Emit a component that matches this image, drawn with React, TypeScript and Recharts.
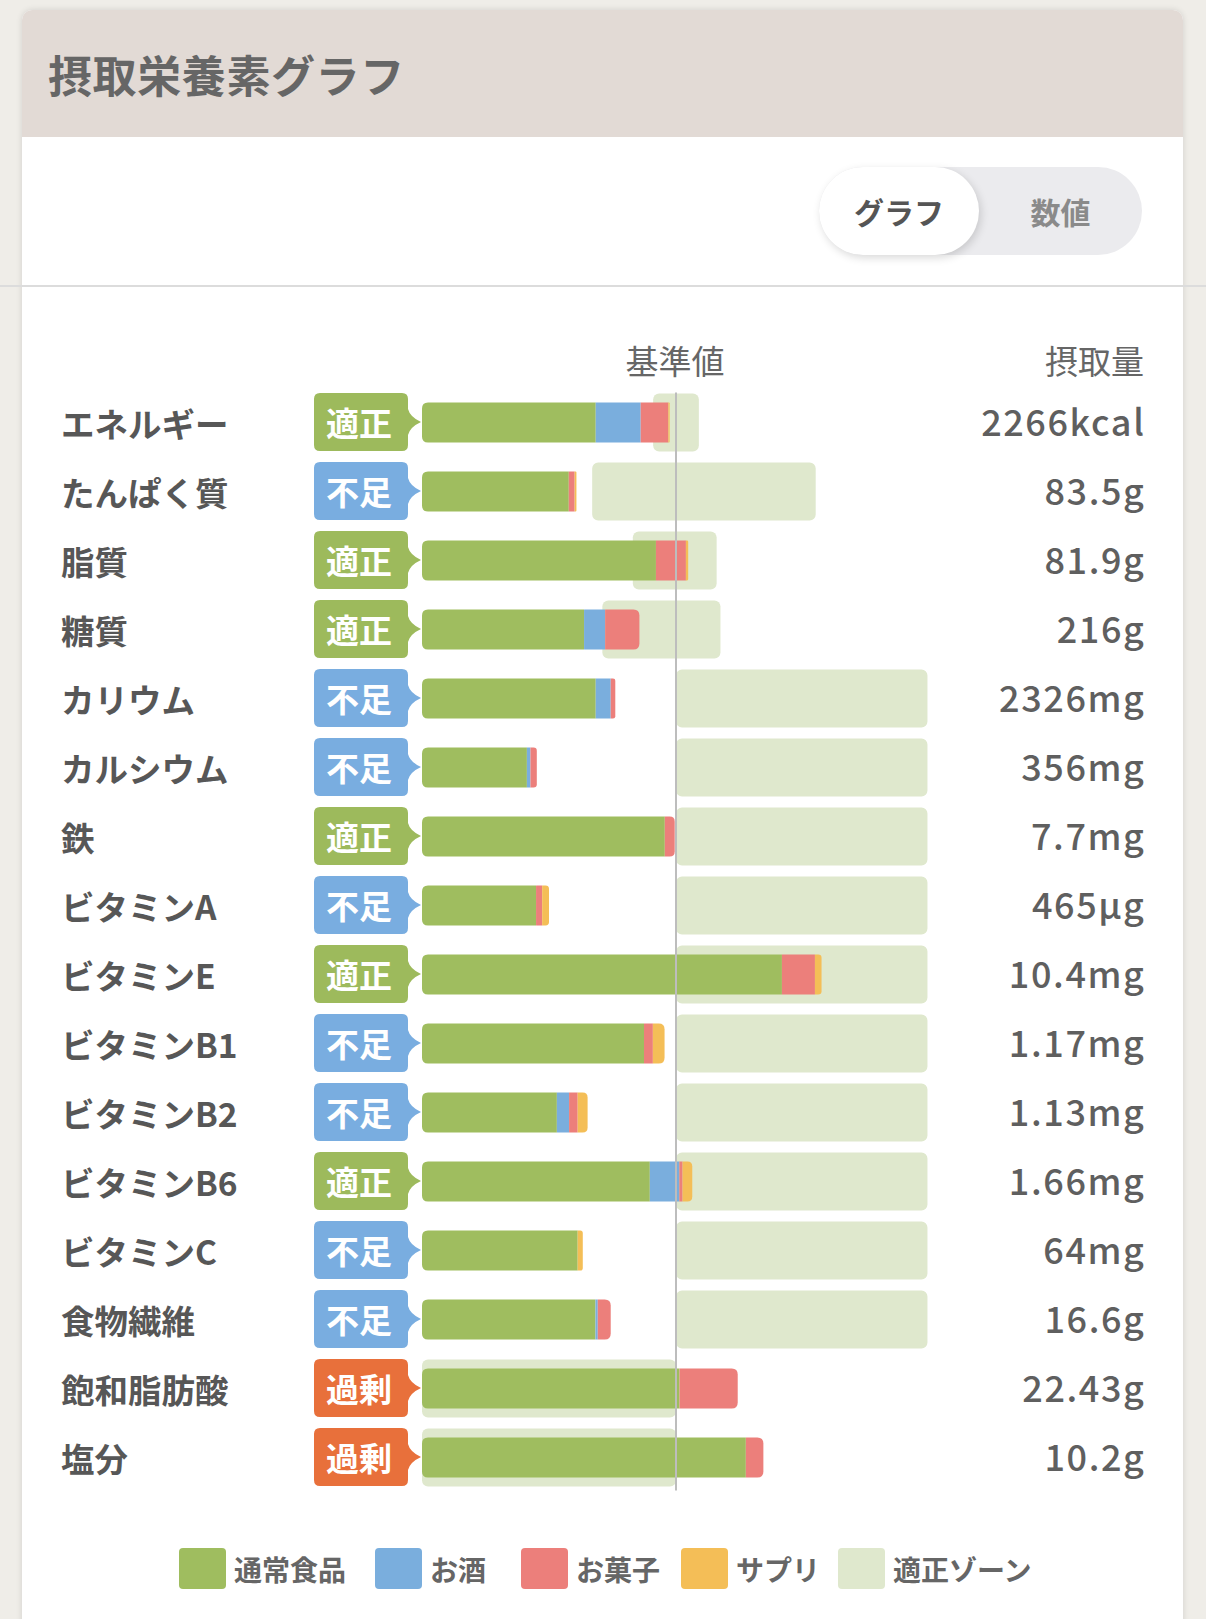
import { Bar, BarChart, ReferenceLine, XAxis, YAxis } from 'recharts'

const NUTRIENTS = [
	'エネルギー',
	'たんぱく質',
	'脂質',
	'糖質',
	'カリウム',
	'カルシウム',
	'鉄',
	'ビタミンA',
	'ビタミンE',
	'ビタミンB1',
	'ビタミンB2',
	'ビタミンB6',
	'ビタミンC',
	'食物繊維',
	'飽和脂肪酸',
	'塩分',
]
const STATUS = ['適正', '不足', '適正', '適正', '不足', '不足', '適正', '不足', '適正', '不足', '不足', '適正', '不足', '不足', '過剰', '過剰']
const INTAKE = ['2266kcal', '83.5g', '81.9g', '216g', '2326mg', '356mg', '7.7mg', '465µg', '10.4mg', '1.17mg', '1.13mg', '1.66mg', '64mg', '16.6g', '22.43g', '10.2g']

// % of the reference value, per source
const FOOD = [68.4, 57.8, 92.1, 63.8, 68.4, 41.3, 95.6, 44.9, 141.7, 87.4, 53.1, 89.7, 61.3, 68.3, 101.4, 127.5]
const ALCOHOL = [17.7, 0, 0, 8.3, 5.9, 1.4, 0, 0, 0, 0, 4.8, 11.6, 0, 0.9, 0, 0]
const SNACK = [10.9, 2.3, 11.8, 13.5, 1.8, 2.5, 3.9, 2.4, 13.0, 3.5, 3.4, 1.3, 0, 5.1, 22.9, 6.9]
const SUPPLEMENT = [0.5, 0.7, 0.9, 0, 0, 0, 0, 2.7, 2.6, 4.6, 3.9, 3.8, 2.0, 0, 0, 0]
const ZONE_LOW = [91, 67, 83, 71, 100, 100, 100, 100, 100, 100, 100, 100, 100, 100, 0, 0]
const ZONE_HIGH = [109, 155, 116, 117.5, 199, 199, 199, 199, 199, 199, 199, 199, 199, 199, 100, 100]

const SERIES = [
	{ key: 'food', name: '通常食品', color: '#9fbd5f' },
	{ key: 'alcohol', name: 'お酒', color: '#7aaedd' },
	{ key: 'snack', name: 'お菓子', color: '#ec7f7b' },
	{ key: 'supplement', name: 'サプリ', color: '#f4be57' },
]
const ZONE_COLOR = '#dfe8cd'
const LEGEND_LEFT = [179, 375, 521, 681, 838]

const STATUS_COLOR: Record<string, string> = {
	適正: '#9dba5c',
	不足: '#79ade0',
	過剰: '#e8703b',
}

const data = NUTRIENTS.map((name, i) => ({
	name,
	status: STATUS[i],
	intake: INTAKE[i],
	food: FOOD[i],
	alcohol: ALCOHOL[i],
	snack: SNACK[i],
	supplement: SUPPLEMENT[i],
	zoneLow: ZONE_LOW[i],
	zoneHigh: ZONE_HIGH[i],
}))

const FONT = '"Noto Sans CJK JP", "Noto Sans", sans-serif'

function roundedPath(x: number, y: number, w: number, h: number, rl: number, rr: number) {
	return `M${x + rl},${y} H${x + w - rr} Q${x + w},${y} ${x + w},${y + rr} V${y + h - rr} Q${x + w},${y + h} ${x + w - rr},${y + h} H${x + rl} Q${x},${y + h} ${x},${y + h - rl} V${y + rl} Q${x},${y} ${x + rl},${y} Z`
}

function Segment(props: any) {
	const { x, y, width, height, fill, payload, k } = props
	if (!width || width <= 0) return null
	const idx = SERIES.findIndex((s) => s.key === k)
	const isFirst = SERIES.slice(0, idx).every((s) => !payload[s.key])
	const isLast = SERIES.slice(idx + 1).every((s) => !payload[s.key])
	const r = Math.min(6, width / 2)
	return <path d={roundedPath(x, y, width, height, isFirst ? r : 0, isLast ? r : 0)} fill={fill} />
}

function RowTick(props: any) {
	const { y, payload } = props
	const row = data[payload.index]
	const c = y
	const x0 = 314
	const x1 = 408
	const top = c - 29
	const bot = c + 29
	const r = 6
	const badge = `M${x0 + r},${top} H${x1 - r} Q${x1},${top} ${x1},${top + r} V${c - 13} Q${x1 + 2},${c - 5} ${x1 + 13},${c} Q${x1 + 2},${c + 5} ${x1},${c + 13} V${bot - r} Q${x1},${bot} ${x1 - r},${bot} H${x0 + r} Q${x0},${bot} ${x0},${bot - r} V${top + r} Q${x0},${top} ${x0 + r},${top} Z`
	return (
		<g fontFamily={FONT}>
			<text x={61} y={c} dominantBaseline='central' fontSize={33.5} fontWeight={700} fill='#575757'>
				{row.name}
			</text>
			<path d={badge} fill={STATUS_COLOR[row.status]} />
			<text x={359} y={c} textAnchor='middle' dominantBaseline='central' fontSize={33} fontWeight={700} fill='#fff'>
				{row.status}
			</text>
			<text
				x={1145.5}
				y={c - 2}
				textAnchor='end'
				dominantBaseline='central'
				fontSize={36}
				fontWeight={500}
				letterSpacing={1.6}
				fill='#5f5f5f'
			>
				{row.intake}
			</text>
		</g>
	)
}

export default function App() {
	return (
		<div
			style={{
				position: 'absolute',
				left: 0,
				top: 0,
				width: 1206,
				height: 1619,
				background: '#efede8',
				overflow: 'hidden',
				fontFamily: FONT,
			}}
		>
			<div
				style={{
					position: 'absolute',
					left: 22,
					top: 10,
					width: 1161,
					height: 1660,
					background: '#fff',
					borderRadius: 10,
					boxShadow: '0 0 6px rgba(0,0,0,0.12)',
					overflow: 'hidden',
				}}
			>
				<div
					style={{
						height: 127,
						background: '#e2dad5',
						display: 'flex',
						alignItems: 'center',
						paddingLeft: 26,
						fontSize: 44,
						letterSpacing: 0.6,
						fontWeight: 700,
						color: '#666',
					}}
				>
					摂取栄養素グラフ
				</div>
			</div>
			<div style={{ position: 'absolute', left: 0, top: 285, width: 1206, height: 2, background: '#dcdcdc' }} />
			<div
				style={{
					position: 'absolute',
					left: 819,
					top: 167,
					width: 323,
					height: 88,
					borderRadius: 44,
					background: '#ebebee',
				}}
			>
				<div
					style={{
						position: 'absolute',
						left: 0,
						top: 0,
						width: 160,
						height: 88,
						borderRadius: 44,
						background: '#fff',
						boxShadow: '2px 3px 8px rgba(0,0,0,0.15)',
						display: 'flex',
						alignItems: 'center',
						justifyContent: 'center',
						fontSize: 30,
						fontWeight: 700,
						color: '#555',
					}}
				>
					グラフ
				</div>
				<div
					style={{
						position: 'absolute',
						left: 160,
						top: 0,
						width: 163,
						height: 88,
						display: 'flex',
						alignItems: 'center',
						justifyContent: 'center',
						fontSize: 30,
						fontWeight: 700,
						color: '#8a8a8a',
					}}
				>
					数値
				</div>
			</div>
			<div style={{ position: 'absolute', left: 575, width: 200, top: 338, textAlign: 'center', fontSize: 33, color: '#666', lineHeight: '44px' }}>
				基準値
			</div>
			<div style={{ position: 'absolute', right: 62, top: 338, fontSize: 33, color: '#666', lineHeight: '44px' }}>摂取量</div>

			<div style={{ position: 'absolute', left: 0, top: 0 }}>
				<BarChart
					layout='vertical'
					width={1206}
					height={1619}
					data={data}
					margin={{ top: 387.5, right: 276, bottom: 127.5, left: 0 }}
					barCategoryGap={0}
				>
					<XAxis type='number' domain={[0, 200]} allowDataOverflow hide />
					<YAxis
						type='category'
						dataKey='name'
						width={422}
						axisLine={false}
						tickLine={false}
						interval={0}
						tick={<RowTick />}
					/>
					<YAxis yAxisId='zone' type='category' dataKey='name' hide />
					<Bar
						yAxisId='zone'
						name='適正ゾーン'
						dataKey={(d: any) => [d.zoneLow, d.zoneHigh]}
						barSize={58}
						fill={ZONE_COLOR}
						radius={6}
						isAnimationActive={false}
					/>
					{SERIES.map((s) => (
						<Bar
							key={s.key}
							dataKey={s.key}
							name={s.name}
							stackId='intake'
							barSize={40}
							fill={s.color}
							shape={(p: any) => <Segment {...p} k={s.key} />}
							isAnimationActive={false}
						/>
					))}
					<ReferenceLine
						x={100}
						stroke='#bdbdbd'
						strokeWidth={2}
						shape={(p: any) => (
							<line x1={p.x1} y1={p.y1 - 1} x2={p.x2} y2={p.y2 + 5} stroke='#bdbdbd' strokeWidth={2} />
						)}
					/>
				</BarChart>
			</div>

			{[...SERIES.map((s) => ({ name: s.name, color: s.color })), { name: '適正ゾーン', color: ZONE_COLOR }].map((l, i) => (
				<div
					key={l.name}
					style={{ position: 'absolute', left: LEGEND_LEFT[i], top: 1548, display: 'flex', alignItems: 'center', gap: 8 }}
				>
					<div style={{ width: 47, height: 41, borderRadius: 4, background: l.color }} />
					<span style={{ fontSize: 28, fontWeight: 700, color: '#666' }}>{l.name}</span>
				</div>
			))}
		</div>
	)
}
